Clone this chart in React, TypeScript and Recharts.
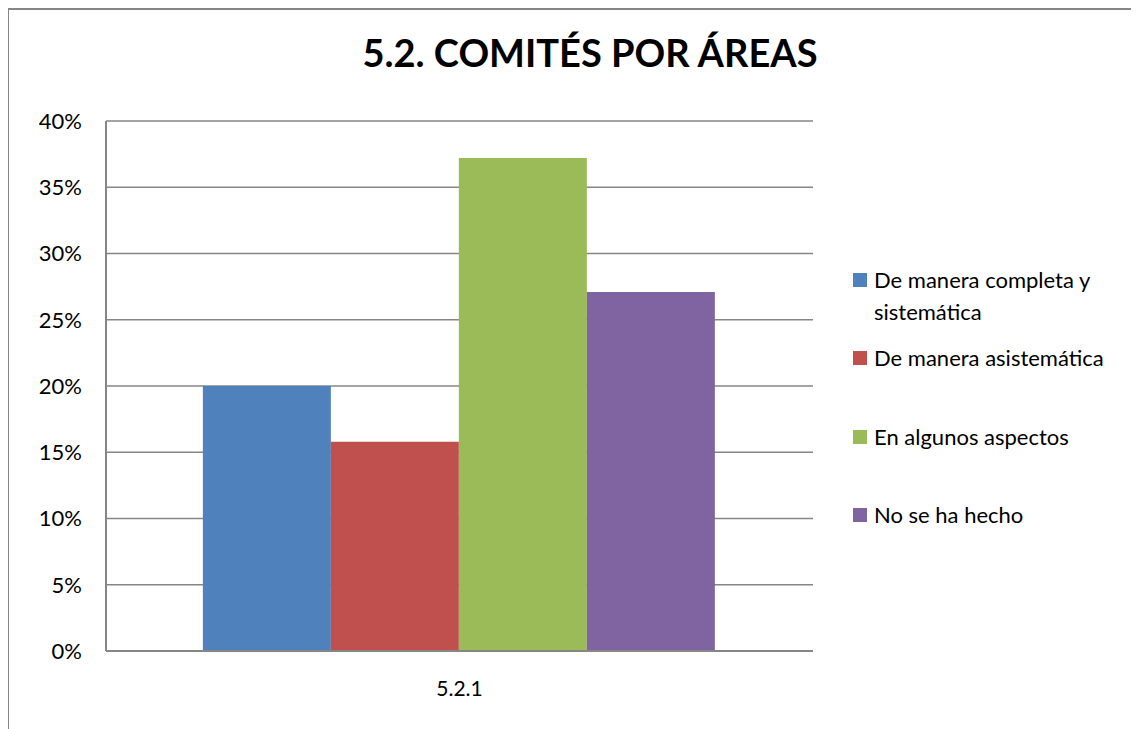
import React from "react";
import { BarChart, Bar, XAxis, YAxis, CartesianGrid } from "recharts";

const categories = ["5.2.1"];
const seriesNames = [
  "De manera completa y sistemática",
  "De manera asistemática",
  "En algunos aspectos",
  "No se ha hecho",
];
const seriesValues = [0.2, 0.158, 0.372, 0.271];
const seriesColors = ["#4F81BD", "#C0504D", "#9BBB59", "#8064A2"];
const yTicks = [0, 0.05, 0.1, 0.15, 0.2, 0.25, 0.3, 0.35, 0.4];

const data = categories.map((c) => {
  const row: Record<string, any> = { name: c };
  seriesNames.forEach((s, i) => {
    row["s" + i] = seriesValues[i];
  });
  return row;
});

const FONT = "Lato, 'Open Sans', sans-serif";

const legendLines = [
  ["De manera completa y", "sistemática"],
  ["De manera asistemática"],
  ["En algunos aspectos"],
  ["No se ha hecho"],
];
const legendTops = [254, 332, 411, 489];

export default function App() {
  return (
    <div
      style={{
        position: "relative",
        width: 1131,
        height: 721,
        marginLeft: -1,
        boxSizing: "border-box",
        borderLeft: "2px solid #868686",
        borderTop: "2px solid #868686",
        background: "#fff",
      }}
    >
      <div
        style={{
          position: "absolute",
          left: 0,
          top: 20,
          width: 1162,
          textAlign: "center",
          fontFamily: FONT,
          fontWeight: 700,
          fontSize: 38,
          color: "#000",
          lineHeight: "44px",
        }}
      >
        5.2. COMITÉS POR ÁREAS
      </div>
      <div style={{ position: "absolute", left: -1, top: -2 }}>
        <BarChart
          width={1131}
          height={721}
          data={data}
          margin={{ top: 113, right: 326, bottom: 48, left: 38 }}
          barCategoryGap="13.7%"
          barGap={0}
        >
          <CartesianGrid vertical={false} stroke="#868686" strokeWidth={1.5} />
          <XAxis
            dataKey="name"
            stroke="#868686"
            strokeWidth={2}
            tickLine={false}
            tickSize={0}
            tickMargin={30}
            height={30}
            tick={{ fill: "#000", fontFamily: FONT, fontSize: 21 }}
          />
          <YAxis
            width={60}
            domain={[0, 0.4]}
            ticks={yTicks}
            interval={0}
            stroke="#868686"
            strokeWidth={2}
            tickLine={false}
            tickSize={0}
            tickMargin={24}
            tickFormatter={(v: number) => `${Math.round(v * 100)}%`}
            tick={{ fill: "#000", fontFamily: FONT, fontSize: 22 }}
          />
          {seriesNames.map((n, i) => (
            <Bar
              key={n}
              dataKey={"s" + i}
              name={n}
              fill={seriesColors[i]}
              isAnimationActive={false}
            />
          ))}
        </BarChart>
      </div>
      {seriesNames.map((n, i) => (
        <div
          key={n}
          style={{
            position: "absolute",
            left: 844,
            top: legendTops[i],
            display: "flex",
            alignItems: "flex-start",
            fontFamily: FONT,
            fontSize: 22,
            color: "#000",
            lineHeight: "32px",
            whiteSpace: "nowrap",
          }}
        >
          <div
            style={{
              width: 14,
              height: 14,
              background: seriesColors[i],
              marginTop: 9,
              marginRight: 7,
              flexShrink: 0,
            }}
          />
          <div>
            {legendLines[i].map((l) => (
              <div key={l}>{l}</div>
            ))}
          </div>
        </div>
      ))}
    </div>
  );
}
